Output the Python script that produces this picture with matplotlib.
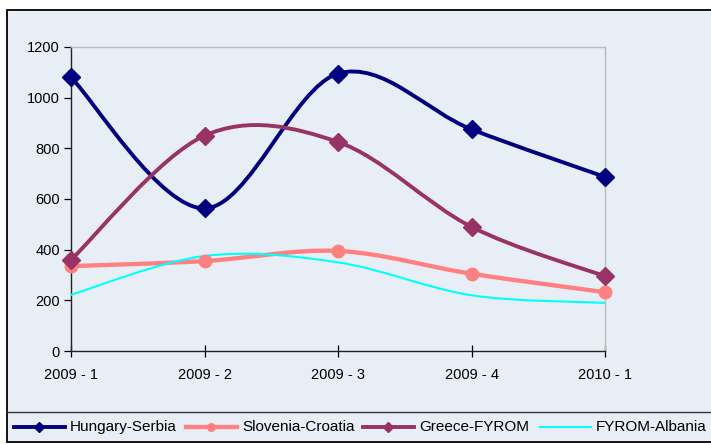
import matplotlib
matplotlib.use("Agg")
import matplotlib.pyplot as plt
from matplotlib.path import Path
from matplotlib.patches import PathPatch, Rectangle
from matplotlib.lines import Line2D
import numpy as np

plt.rcParams["font.family"] = ["Liberation Sans", "DejaVu Sans"]

# ── data ─────────────────────────────────────────────────────────────
periods = ["2009 - 1", "2009 - 2", "2009 - 3", "2009 - 4", "2010 - 1"]
hungary_serbia   = [1080, 563, 1095, 875, 687]
slovenia_croatia = [335, 355, 395, 305, 232]
greece_fyrom     = [360, 850, 825, 490, 295]
fyrom_albania    = [222, 375, 350, 220, 190]

BG = "#E8EEF5"

series = [
    ("Hungary-Serbia",   hungary_serbia,   "#000080", "D", 9, 2.8),
    ("Slovenia-Croatia", slovenia_croatia, "#FF8080", "o", 9, 3.1),
    ("Greece-FYROM",     greece_fyrom,     "#993366", "D", 9, 2.8),
    ("FYROM-Albania",    fyrom_albania,    "#00FFFF", None, 0, 1.5),
]


def smooth_path(xs, ys):
    """Excel-like smoothed line: cubic Bezier with 1/6 tangent control points."""
    pts = np.column_stack([xs, ys]).astype(float)
    ext = np.vstack([pts[0], pts, pts[-1]])
    verts = [tuple(pts[0])]
    codes = [Path.MOVETO]
    for i in range(len(pts) - 1):
        p0, p1, p2, p3 = ext[i], ext[i + 1], ext[i + 2], ext[i + 3]
        c1 = p1 + (p2 - p0) / 6.0
        c2 = p2 - (p3 - p1) / 6.0
        verts += [tuple(c1), tuple(c2), tuple(p2)]
        codes += [Path.CURVE4] * 3
    return Path(verts, codes)


fig = plt.figure(figsize=(7.11, 4.44), dpi=100, facecolor="white")
W, H = 711.0, 444.0

# chart area background + frame
fig.add_artist(Rectangle((7 / W, 1 - 442 / H), 1.0, (442 - 10) / H,
                         transform=fig.transFigure, facecolor=BG,
                         edgecolor="black", linewidth=1.3, zorder=0))
# legend box top border
fig.add_artist(Line2D([7 / W, 1.0], [1 - 412 / H, 1 - 412 / H],
                      transform=fig.transFigure, color="#333333", linewidth=1.0))

ax = fig.add_axes([71 / W, 1 - 351 / H, (605 - 71) / W, (351 - 47) / H])
ax.set_facecolor(BG)

x = np.arange(len(periods))
for name, vals, col, mk, ms, lw in series:
    ax.add_patch(PathPatch(smooth_path(x, vals), facecolor="none",
                           edgecolor=col, linewidth=lw, zorder=3,
                           capstyle="round", joinstyle="round"))
    if mk:
        ax.plot(x, vals, linestyle="none", marker=mk, markersize=ms,
                color=col, zorder=4, clip_on=False)

ax.set_xlim(0, len(periods) - 1)
ax.set_ylim(0, 1200)
ax.set_yticks(range(0, 1201, 200))
ax.set_xticks(x)
ax.set_xticklabels(periods, fontsize=10.5)
ax.tick_params(axis="y", labelsize=10.5, length=5, width=0.9, pad=3)
ax.tick_params(axis="x", direction="inout", length=9, width=0.9, pad=8)

for s in ["top", "right"]:
    ax.spines[s].set_color("#BBBBBB")
    ax.spines[s].set_linewidth(1.0)
for s in ["left", "bottom"]:
    ax.spines[s].set_color("#222222")
    ax.spines[s].set_linewidth(1.0)

# legend row (drawn by hand, Excel style)
leg_y = 1 - 427 / H
handle_x = [14, 186, 363, 540]
for (name, vals, col, mk, ms, lw), hx in zip(series, handle_x):
    fig.add_artist(Line2D([hx / W, (hx + 51) / W], [leg_y, leg_y],
                          transform=fig.transFigure, color=col, linewidth=lw))
    if mk:
        fig.add_artist(Line2D([(hx + 25) / W], [leg_y], transform=fig.transFigure,
                              marker=mk, markersize=ms * 0.6, color=col,
                              linestyle="none"))
    fig.text((hx + 56) / W, leg_y, name, fontsize=11, va="center", ha="left")

fig.savefig("out.png", dpi=100, facecolor="white")
